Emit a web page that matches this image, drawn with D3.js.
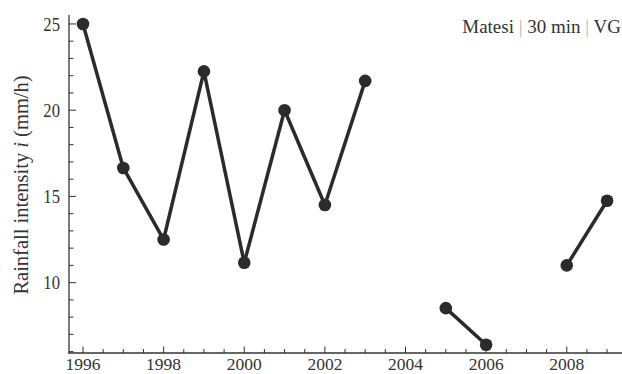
<!DOCTYPE html>
<html><head><meta charset="utf-8">
<script src="https://cdn.jsdelivr.net/npm/d3@7"></script>
<style>body{margin:0;background:#fff}svg{display:block}</style>
</head><body>
<svg id="c" width="622" height="374"></svg>
<script>
const years = [1996,1997,1998,1999,2000,2001,2002,2003,2004,2005,2006,2007,2008,2009];
const intensity = [25.0,16.65,12.5,22.25,11.15,20.0,14.5,21.7,null,8.52,6.4,null,11.0,14.75];
const xMajorTicks = [1996,1998,2000,2002,2004,2006,2008];
const yMajorTicks = [10,15,20,25];
const yMinorTicks = [6,7,8,9,11,12,13,14,16,17,18,19,21,22,23,24];
const xMinorTicks = [1996.5,1997,1997.5,1998.5,1999,1999.5,2000.5,2001,2001.5,2002.5,2003,2003.5,2004.5,2005,2005.5,2006.5,2007,2007.5,2008.5,2009];
const title = ["Matesi", "30 min", "VG"];

const svg = d3.select("#c");
const x = d3.scaleLinear().domain([1995.653, 2009.37]).range([69, 622]);
const y = d3.scaleLinear().domain([5.92, 25.52]).range([353, 15]);
const axisColor = "#333";
const font = "'Liberation Serif','Times New Roman',serif";

// axes lines
svg.append("line").attr("x1",69).attr("x2",69).attr("y1",y.range()[1]).attr("y2",y.range()[0]+0.5)
  .attr("stroke",axisColor).attr("stroke-width",1.3);
svg.append("line").attr("x1",68.4).attr("x2",622).attr("y1",353).attr("y2",353)
  .attr("stroke",axisColor).attr("stroke-width",1.3);

// y ticks
svg.selectAll(".ymaj").data(yMajorTicks).enter().append("line")
  .attr("x1",69).attr("x2",76).attr("y1",d=>y(d)).attr("y2",d=>y(d))
  .attr("stroke",axisColor).attr("stroke-width",1);
svg.selectAll(".ymin").data(yMinorTicks).enter().append("line")
  .attr("x1",69).attr("x2",73.5).attr("y1",d=>y(d)).attr("y2",d=>y(d))
  .attr("stroke",axisColor).attr("stroke-width",1);
svg.selectAll(".ylab").data(yMajorTicks).enter().append("text")
  .attr("transform",d=>`translate(60,${y(d)}) scale(0.9,1)`).attr("dy","0.36em").attr("text-anchor","end")
  .attr("font-family",font).attr("font-size",18.5).attr("fill","#333").text(d=>d);

// x ticks
svg.selectAll(".xmaj").data(xMajorTicks).enter().append("line")
  .attr("x1",d=>x(d)).attr("x2",d=>x(d)).attr("y1",353).attr("y2",346.5)
  .attr("stroke",axisColor).attr("stroke-width",1);
svg.selectAll(".xmin").data(xMinorTicks).enter().append("line")
  .attr("x1",d=>x(d)).attr("x2",d=>x(d)).attr("y1",353).attr("y2",349)
  .attr("stroke",axisColor).attr("stroke-width",1);
svg.selectAll(".xlab").data(xMajorTicks).enter().append("text")
  .attr("x",d=>x(d)).attr("y",370).attr("text-anchor","middle")
  .attr("font-family",font).attr("font-size",17.5).attr("fill","#333").text(d=>d);

// y label
const yl = svg.append("text").attr("transform","translate(28,185) rotate(-90)")
  .attr("text-anchor","middle").attr("font-family",font).attr("font-size",20.5).attr("fill","#333");
yl.append("tspan").text("Rainfall intensity ");
yl.append("tspan").attr("font-style","italic").text("i");
yl.append("tspan").text(" (mm/h)");

// title
const t = svg.append("text").attr("x",621).attr("y",33).attr("text-anchor","end")
  .attr("font-family",font).attr("font-size",19).attr("fill","#333");
title.forEach((s,i)=>{
  if(i>0) t.append("tspan").attr("fill","#c8b0a0").text(" | ");
  t.append("tspan").text(s);
});

// data
const pts = years.map((yr,i)=>({yr, v:intensity[i]}));
const line = d3.line().defined(d=>d.v!==null).x(d=>x(d.yr)).y(d=>y(d.v));
svg.append("path").attr("d",line(pts)).attr("fill","none")
  .attr("stroke","#2b2b2b").attr("stroke-width",3.5).attr("stroke-linejoin","round");
svg.selectAll(".pt").data(pts.filter(d=>d.v!==null)).enter().append("circle")
  .attr("cx",d=>x(d.yr)).attr("cy",d=>y(d.v)).attr("r",6.3).attr("fill","#2b2b2b");
</script>
</body></html>
